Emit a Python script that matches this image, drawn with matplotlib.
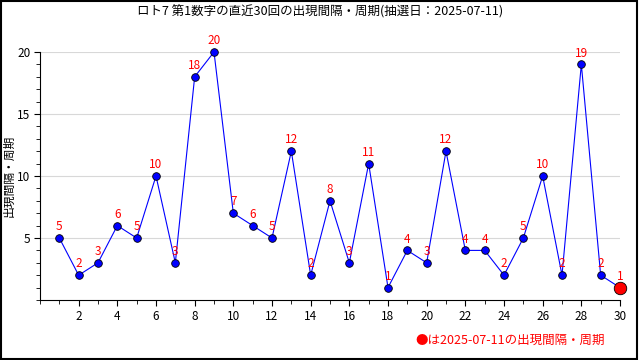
import matplotlib
matplotlib.use('Agg')
from matplotlib import pyplot as plt
from matplotlib.ticker import MultipleLocator
import matplotlib.patches as patches

plt.rcParams['font.family'] = ['Noto Sans CJK JP', 'DejaVu Sans']

draws = list(range(1, 31))
intervals = [5, 2, 3, 6, 5, 10, 3, 18, 20, 7, 6, 5, 12, 2, 8, 3, 11, 1, 4, 3,
             12, 4, 4, 2, 5, 10, 2, 19, 2, 1]
title = 'ロト7 第1数字の直近30回の出現間隔・周期(抽選日：2025-07-11)'
ylabel = '出現間隔・周期'
note = '●は2025-07-11の出現間隔・周期'

fig = plt.figure(figsize=(6.4, 3.6), dpi=100)
ax = fig.add_axes([40 / 640, 60 / 360, 580 / 640, 248 / 360])

ax.plot(draws, intervals, color='blue', lw=0.8, zorder=2, clip_on=False)
ax.plot(draws[:-1], intervals[:-1], 'o', color='blue', markeredgecolor='black',
        markeredgewidth=0.6, markersize=5.5, zorder=3, clip_on=False)
ax.plot(draws[-1], intervals[-1], 'o', color='red', markeredgecolor='black',
        markeredgewidth=0.6, markersize=9, zorder=4, clip_on=False)
for x, y in zip(draws, intervals):
    ax.annotate(str(y), (x, y), xytext=(0, 3.5), textcoords='offset points',
                ha='center', va='bottom', color='red', fontsize=8.5, zorder=5)

ax.set_xlim(0, 30)
ax.set_ylim(0, 20)
ax.xaxis.set_major_locator(MultipleLocator(2))
ax.xaxis.set_minor_locator(MultipleLocator(1))
ax.yaxis.set_minor_locator(MultipleLocator(1))
ax.set_yticks([5, 10, 15, 20])
ax.set_xticks(range(2, 31, 2))
ax.tick_params(labelsize=8.5, length=4, direction='out', pad=3)
ax.tick_params(which='minor', length=3)
ax.grid(axis='y', color='#d8d8d8', lw=0.8)
ax.set_axisbelow(True)
for s in ['top', 'right']:
    ax.spines[s].set_visible(False)

ax.set_ylabel(ylabel, fontsize=8.5)
ax.yaxis.set_label_coords(-0.043, 0.5)
fig.text(0.5, 1 - 12 / 360, title, ha='center', va='center', fontsize=9)
fig.text(605 / 640, 1 - 340 / 360, note, ha='right', va='center', color='red', fontsize=9)

fig.patches.append(patches.Rectangle((0.002, 0.003), 0.994, 0.994, transform=fig.transFigure,
                                     fill=False, edgecolor='black', lw=1.5))

plt.savefig('out.png', dpi=100)
